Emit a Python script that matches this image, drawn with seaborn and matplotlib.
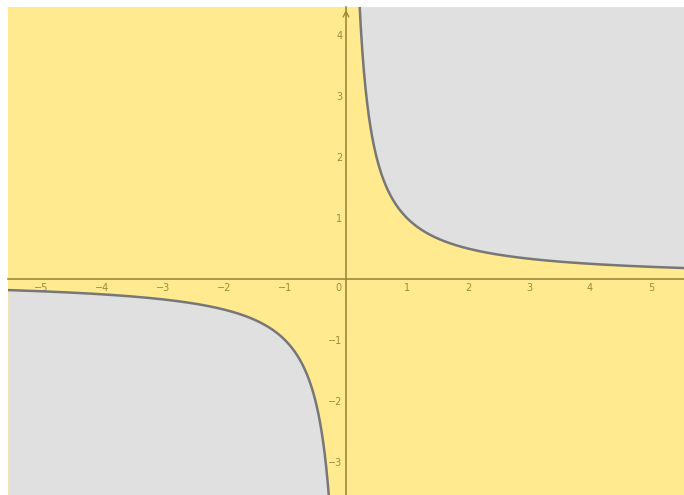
import numpy as np
import pandas as pd
import matplotlib.pyplot as plt
import seaborn as sns

# window and tick values
x_range = (-5.54, 5.54)
y_range = (-3.54, 4.46)
x_ticks = [-5, -4, -3, -2, -1, 1, 2, 3, 4, 5]
y_ticks = [-3, -2, -1, 1, 2, 3, 4]

# curve y = 1/x, sampled per branch
x_pos = np.linspace(0.2, x_range[1], 400)
x_neg = np.linspace(x_range[0], -0.27, 400)
curve = pd.DataFrame({
    "x": np.concatenate([x_neg, x_pos]),
    "y": np.concatenate([1 / x_neg, 1 / x_pos]),
    "branch": ["neg"] * len(x_neg) + ["pos"] * len(x_pos),
})

yellow = "#ffea8f"
grey = "#e0e0e0"
axis_col = "#9c8a3c"

sns.set_style("white")
fig = plt.figure(figsize=(6.84, 4.95), dpi=100)
ax = fig.add_axes([8 / 684, 0, 676 / 684, 488 / 495])
ax.set_facecolor(yellow)

# grey regions where x*y > 1
xp = np.linspace(1 / y_range[1], x_range[1], 400)
ax.fill_between(xp, 1 / xp, y_range[1], color=grey, lw=0)
xn = np.linspace(x_range[0], 1 / y_range[0], 400)
ax.fill_between(xn, y_range[0], 1 / xn, color=grey, lw=0)

sns.lineplot(data=curve, x="x", y="y", units="branch", estimator=None,
             color="#777777", lw=1.8, ax=ax, sort=False)

ax.set_xlim(*x_range)
ax.set_ylim(*y_range)
ax.set_xlabel("")
ax.set_ylabel("")

for side in ["top", "right"]:
    ax.spines[side].set_visible(False)
ax.spines["left"].set_position(("data", 0))
ax.spines["bottom"].set_position(("data", 0))
for side in ["left", "bottom"]:
    ax.spines[side].set_color(axis_col)
    ax.spines[side].set_linewidth(1.2)

ax.set_xticks(x_ticks)
ax.set_yticks(y_ticks)
ax.tick_params(axis="both", colors=axis_col, labelsize=7, length=3,
               width=1, direction="inout", pad=1)
ax.text(-0.08, -0.07, "0", color=axis_col, fontsize=7, ha="right", va="top")

ax.annotate("", xy=(0, y_range[1]), xytext=(0, y_range[1] - 0.15),
            arrowprops=dict(arrowstyle="->", color=axis_col, lw=1))

fig.savefig("out.png", dpi=100, facecolor="white")
